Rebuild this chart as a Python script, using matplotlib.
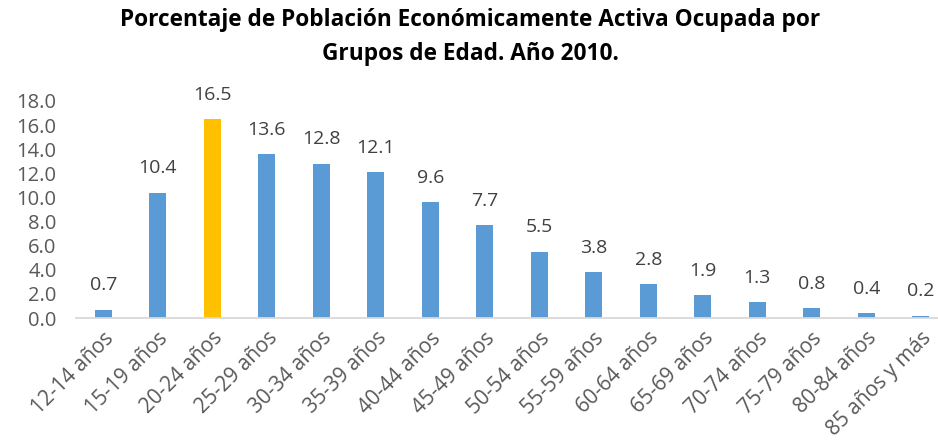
import matplotlib
matplotlib.use("Agg")
import matplotlib.pyplot as plt
import numpy as np

plt.rcParams["font.family"] = ["Open Sans", "DejaVu Sans"]

# ── Data ──────────────────────────────────────────────────────────────────────

GROUPS = [
    "12-14 años", "15-19 años", "20-24 años", "25-29 años", "30-34 años",
    "35-39 años", "40-44 años", "45-49 años", "50-54 años", "55-59 años",
    "60-64 años", "65-69 años", "70-74 años", "75-79 años", "80-84 años",
    "85 años y más",
]
VALUES = [0.7, 10.4, 16.5, 13.6, 12.8, 12.1, 9.6, 7.7, 5.5, 3.8, 2.8, 1.9, 1.3, 0.8, 0.4, 0.2]
HIGHLIGHT = "20-24 años"
Y_TICKS = [0, 2, 4, 6, 8, 10, 12, 14, 16, 18]

BLUE = "#5B9BD5"
GOLD = "#FFC000"
TEXT = "#595959"

# ── Plot ──────────────────────────────────────────────────────────────────────

W, H = 938, 444
fig = plt.figure(figsize=(W / 100, H / 100), dpi=100)
ax = fig.add_axes([76 / W, 1 - 318 / H, (948 - 76) / W, (318 - 101) / H])

x = np.arange(len(GROUPS))
colors = [GOLD if g == HIGHLIGHT else BLUE for g in GROUPS]
ax.bar(x, VALUES, width=0.31, color=colors, zorder=2)

for xi, v in zip(x, VALUES):
    ax.annotate(f"{v:.1f}", (xi, v), xytext=(0, 11), textcoords="offset points",
                ha="center", va="bottom", fontsize=14, color="#404040")

ax.set_xlim(-0.5, len(GROUPS) - 0.5)
ax.set_ylim(0, 18)
ax.set_yticks(Y_TICKS)
ax.set_yticklabels([f"{t:.1f}" for t in Y_TICKS], fontsize=14.5, color=TEXT)
ax.set_xticks(x)
ax.set_xticklabels(GROUPS, rotation=45, ha="right", rotation_mode="anchor",
                   fontsize=15, color=TEXT)
ax.tick_params(length=0, pad=7)
ax.tick_params(axis="y", pad=14)

for side in ("left", "right", "top"):
    ax.spines[side].set_visible(False)
ax.spines["bottom"].set_color("#D9D9D9")
ax.spines["bottom"].set_linewidth(1.3)

fig.text(470 / W, 1 - 37 / H,
         "Porcentaje de Población Económicamente Activa Ocupada por\nGrupos de Edad. Año 2010.",
         ha="center", va="center", fontsize=16.3, fontweight="bold",
         color="black", linespacing=1.6)

fig.savefig("out.png", dpi=100)
